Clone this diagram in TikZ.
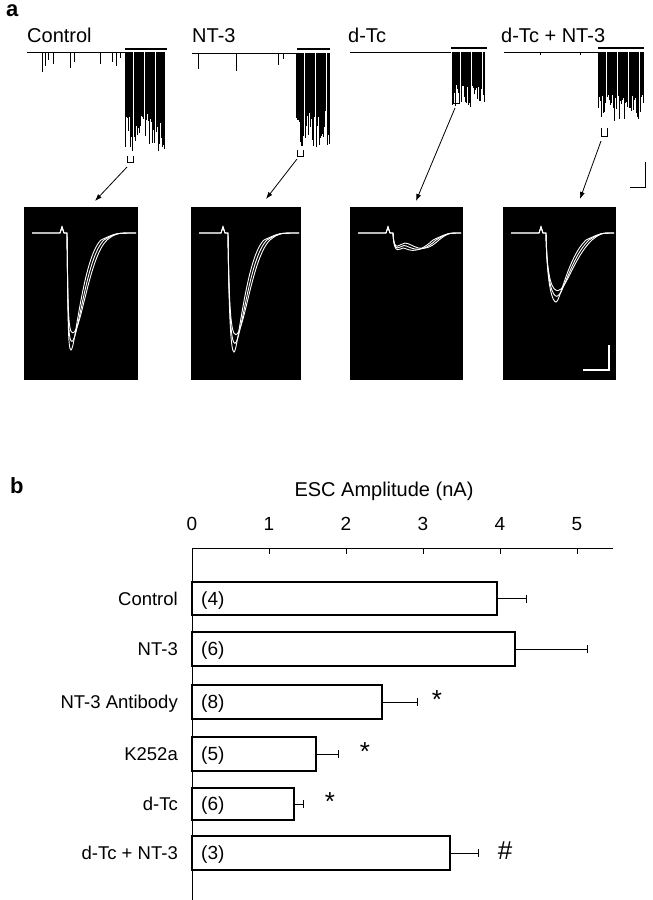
\documentclass[tikz,border=0pt]{standalone}
\usepackage{fontspec}
\setmainfont{Liberation Sans}
\usetikzlibrary{arrows.meta}
\tikzset{
  lbl/.style={font=\fontsize{20}{20}\selectfont, anchor=base west, inner sep=0},
  clbl/.style={font=\fontsize{18.5}{18.5}\selectfont, anchor=base east, inner sep=0},
  nlbl/.style={font=\fontsize{19}{19}\selectfont, anchor=base west, inner sep=0},
  bar/.style={draw=black, line width=1.1pt, fill=white},
  trace/.style={line width=0.6pt},
  wtrace/.style={white, line width=0.9pt},
  arr/.style={-{Latex[length=7pt,width=5pt]}, line width=0.8pt},
}
\newcommand{\mkburst}[4]{% x0 x1 ybase maxdepth
  \pgfmathtruncatemacro{\nn}{(#2-#1)/1.1}
  \foreach \i in {0,...,\nn} { \pgfmathsetmacro{\dd}{#4*(0.6+0.4*rnd)} \pgfmathsetmacro{\xx}{#1+1.1*\i} \draw[line width=0.5pt] (\xx,#3) -- ++(0,-\dd); }
}
\newcommand{\mkpanel}[6]{% left top width depth minx artx
  \fill[black] (#1,-#2) rectangle ++(#3,-173);
  \begin{scope}[shift={(#1,-#2)}]
    \foreach \o/\s in {0/1,3/0.94,6/0.88}{
    \draw[wtrace] (8,-26) -- (#6,-26) -- (#6+2,-20) -- (#6+4,-26) -- (#6+7,-26)
      .. controls (#6+8,-26-0.6*#4*\s) and (#5-3,-#4*\s) .. (#5+\o*0.3,-#4*\s)
      .. controls (#5+4+\o,-#4*\s) and (#5+12+\o,-50) .. (#5+30+\o,-33)
      .. controls (#5+45,-26) .. (#3-2,-26);}
  \end{scope}
}
\begin{document}
\begin{tikzpicture}[x=1pt,y=1pt]
\useasboundingbox (0,0) rectangle (653,-900);
\pgfmathsetseed{7}
% panel a
\node[font=\fontsize{22}{22}\selectfont\bfseries, anchor=base west, inner sep=0] (la) at (6,-16) {a};
\node[lbl] (t1) at (27,-42) {Control};
\node[lbl] (t2) at (192,-42) {NT-3};
\node[lbl] (t3) at (348,-42) {d-Tc};
\node[lbl] (t4) at (501,-42) {d-Tc + NT-3};
% traces
\draw[trace] (27,-52) -- (125,-52);
\foreach \x/\d in {42/20,45/14,48/8,53/12,70/16,74/10,100/12,112/10,116/14,120/6} \draw[trace] (\x,-52) -- ++(0,-\d);
\draw[line width=1.6pt] (125,-49) -- (167,-49);
\mkburst{125}{165}{-52}{100}
\draw[line width=1.6pt] (297,-49) -- (330,-49);
\draw[trace] (192,-53) -- (296,-53);
\foreach \x/\d in {198/16,236/18,278/12,283/6} \draw[trace] (\x,-53) -- ++(0,-\d);
\mkburst{296}{330}{-53}{95}
\draw[trace] (350,-52) -- (451,-52);
\draw[line width=1.6pt] (451,-48) -- (487,-48);
\mkburst{452}{485}{-52}{55}
\draw[trace] (504,-52) -- (598,-52);
\foreach \x/\d in {540/3,580/3} \draw[trace] (\x,-52) -- ++(0,-\d);
\draw[line width=1.6pt] (598,-48) -- (644,-48);
\mkburst{598}{644}{-52}{70}
% brackets
\draw[line width=0.8pt] (127,-156) -- (127,-162) -- (133,-162) -- (133,-156);
\draw[line width=0.8pt] (297,-150) -- (297,-156) -- (303,-156) -- (303,-150);
\draw[line width=0.8pt] (453,-95) -- (453,-103) -- (459,-103) -- (459,-95);
\draw[line width=0.8pt] (601,-128) -- (601,-136) -- (607,-136) -- (607,-128);
\coordinate (b1) at (127,-167); \coordinate (b2) at (297,-159);
\coordinate (b3) at (455,-108); \coordinate (b4) at (601,-141);
\coordinate (p1) at (95,-201); \coordinate (p2) at (266,-199);
\coordinate (p3) at (416,-201); \coordinate (p4) at (580,-199);
\draw[arr] (b1) -- (p1); \draw[arr] (b2) -- (p2);
\draw[arr] (b3) -- (p3); \draw[arr] (b4) -- (p4);
% scale bar top
\draw[line width=1pt] (630,-187) -- (645,-187) -- (645,-162);
% black panels
\mkpanel{24}{207}{114}{143}{47}{36}
\mkpanel{191}{207}{110}{145}{43}{30}
\mkpanel{350}{207}{113}{41}{53}{36}
\mkpanel{503}{207}{113}{95}{53}{36}
\draw[white, line width=1.2pt] (583,-370) -- (609,-370) -- (609,-345);
% panel b
\node[font=\fontsize{22}{22}\selectfont\bfseries, anchor=base west, inner sep=0] (lb) at (10,-493) {b};
\node[font=\fontsize{20}{20}\selectfont, anchor=base, inner sep=0] (ttl) at (384,-496) {ESC Amplitude (nA)};
\draw[line width=1pt] (192,-548) -- (613,-548);
\draw[line width=1pt] (192,-548) -- (192,-900);
\foreach \v in {0,...,5} {
  \draw[line width=1pt] (192+77*\v,-548) -- ++(0,-6);
  \node[font=\fontsize{19}{19}\selectfont, anchor=base, inner sep=0] at (192+77*\v,-530) {\v};
}
\foreach \nm/\yt/\yb/\xe/\xr/\n/\mk/\mx in {
  Control/582/615/497/526/4//0,
  NT-3/632/666/515/587/6//0,
  NT-3 Antibody/685/719/382/417/8/*/437,
  K252a/737/771/316/338/5/*/365,
  d-Tc/788/820/294/303/6/*/330,
  d-Tc + NT-3/836/870/450/478/3/\#/505} {
  \draw[bar] (192,-\yt) rectangle (\xe,-\yb);
  \pgfmathsetmacro{\ym}{(\yt+\yb)/2}
  \draw[line width=0.9pt] (\xe,-\ym) -- (\xr,-\ym) (\xr,-\ym+4) -- (\xr,-\ym-4);
  \node[clbl] at (178,-\ym-6.5) {\nm};
  \node[nlbl] at (201,-\ym-6.5) {(\n)};
  \node[font=\fontsize{26}{26}\selectfont, anchor=center, inner sep=0] at (\mx,-\ym+2) {\mk};
}
\end{tikzpicture}
\end{document}
